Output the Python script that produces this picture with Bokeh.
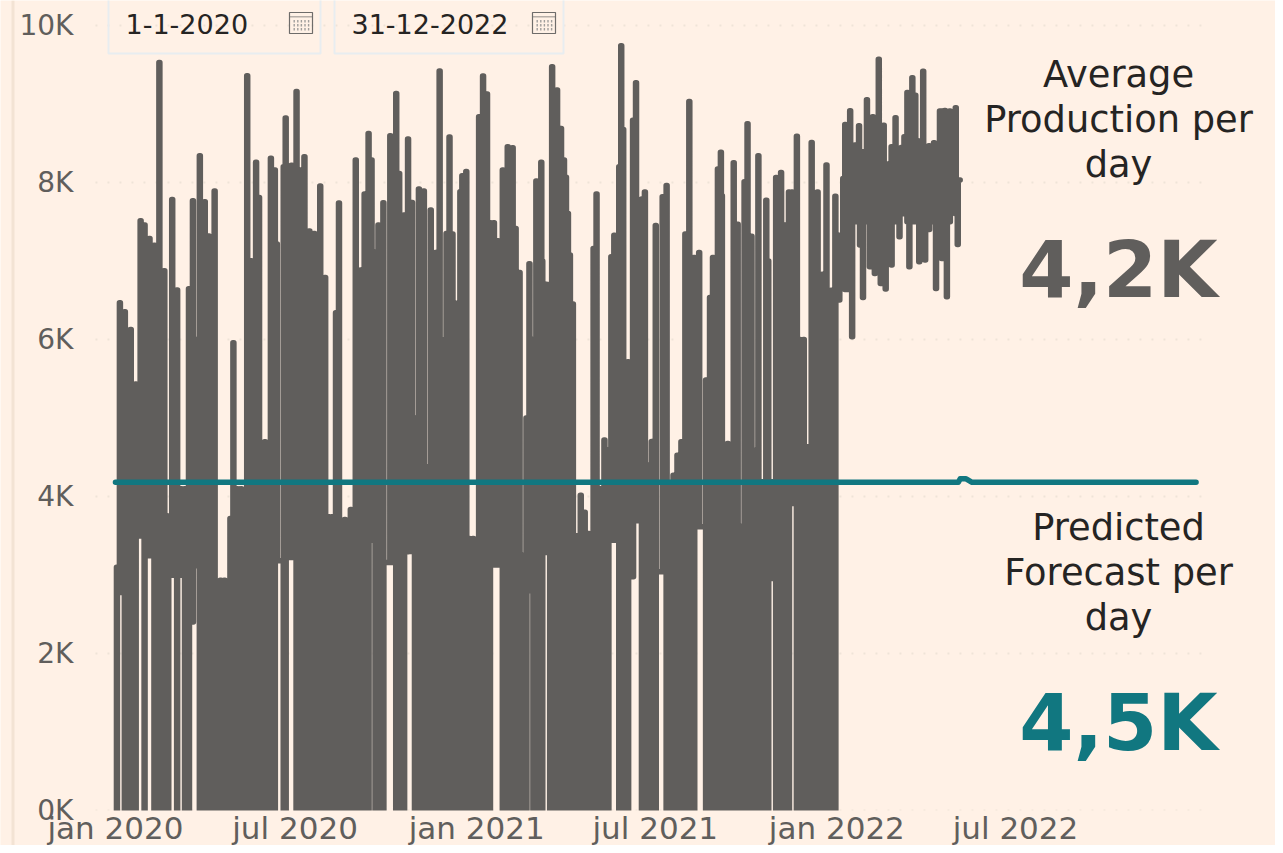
from datetime import date

from bokeh.embed import file_html
from bokeh.models import BoxAnnotation, FixedTicker, Label, Range1d
from bokeh.plotting import figure
from bokeh.resources import INLINE

# Production series: (days since start, stroke high, stroke low)
prod_start = date(2020, 1, 1)
prod_2020_h1 = [
    (1,3100,0),(4,6468,2777),(9,6353,0),(15,6128,0),(20,5432,0),(25,7512,3495),(29,7457,0),(34,7287,3244),
    (39,7200,0),(44,9529,0),(49,6876,0),(53,3750,0),(57,7784,2998),(62,6629,0),(66,4100,2998),(70,4100,0),
    (74,6646,0),(78,7767,2400),(82,6000,3117),(85,8340,0),(90,7754,0),(94,7317,0),(100,7890,0),(106,2934,0),
    (110,2934,0),(116,3720,0),(119,5958,0),(123,4100,0),(127,4100,0),(133,9360,0),(137,7003,0),(142,8256,0),(145,7810,0),
    (151,4697,0),(157,8307,0),(161,8158,0),(163,7215,3181),(170,8200,0),(172,8820,0),(178,8220,3223),(183,9160,0),
]
prod_2020_h2 = [
    (187,8158,0),(191,8328,0),(196,7381,0),(201,7351,0),(207,7954,0),(212,6791,0),(216,3741,0),(219,3741,0),(223,6340,0),
    (226,7737,0),(232,3707,0),(238,3834,0),(243,8285,0),(248,6884,0),(252,7852,0),(256,8625,0),(259,8285,3444),
    (263,7113,0),(266,7457,0),(271,7742,0),(278,8595,3160),(284,9134,0),(287,8115,0),(290,6608,0),(292,7585,0),
    (296,8553,3295),(300,7746,3300),(303,5000,0),(307,7916,0),(312,7890,0),(316,4378,0),(319,7648,0),(324,7109,0),(328,9419,0),
    (331,5992,0),(335,7351,0),(338,8578,0),(341,7343,0),(345,6460,0),(349,7882,0),(351,8086,0),(355,8141,0),(358,3465,0),(362,3465,0),
]
prod_2021_h1 = [
    (368,8837,0),(372,9355,0),(376,9126,0),(379,7487,0),(383,7487,3126),(387,7258,3126),(392,8158,0),(397,8455,0),
    (402,8442,0),(405,7415,0),(409,6854,0),(413,3252,0),(416,5000,0),(419,6965,2799),(423,6000,0),(426,8018,0),
    (431,8256,0),(432,7000,0),(436,6702,3287),(440,6702,0),(442,9474,0),(447,9177,0),(451,8689,0),(454,8285,0),
    (456,8065,0),(458,7606,0),(460,7075,0),(463,6451,0),(467,3500,0),(471,4017,0),(475,3800,0),(479,3529,0),(484,7160,0),
    (487,7852,0),(491,4100,0),(495,4718,0),(497,4600,0),(499,4400,0),(502,7053,3444),(505,7329,3444),(510,8200,0),(512,9741,0),
    (514,8675,0),(519,5716,0),(524,8794,2977),(527,9270,3690),(533,7788,0),(536,7877,0),(540,4400,0),(543,4700,0),(547,7452,0),
    (554,7817,3041),(558,7962,0),(561,4146,0),(565,4271,0),(569,4526,0),(573,4697,0),(577,7342,0),
]
prod_2021_h2 = [
    (581,9032,0),(586,7045,0),(591,7108,3614),(598,5483,0),(602,6535,0),(605,7045,0),(610,8170,0),(613,8386,0),
    (614,7830,0),(620,4676,0),(626,8250,0),(630,7469,0),(634,3622,0),(637,8009,0),(640,8747,0),(644,7316,0),(647,4590,0),(651,8340,0),
    (655,4187,0),(659,7775,0),(661,7000,0),(665,4187,2956),(669,8064,0),(674,8127,0),(678,7457,0),(682,7877,0),(685,7877,3911),(690,8590,0),
    (693,6000,0),(697,6000,0),(701,4633,0),(705,8510,0),(711,7877,0),(716,6832,0),(720,8221,0),(725,6628,0),(729,7826,0),
]
prod_2022 = [
    (733,7329,6502),(737,8051,7200),(739,8739,6637),(742,8476,6637),(744,8913,7500),(746,8476,6035),(749,8476,7500),
    (753,8722,7500),(754,8391,7202),(757,8391,6536),(761,9053,7500),(764,8600,6926),(767,8837,7000),(769,8600,6841),
    (773,9571,7400),(775,8730,6714),(778,8730,7400),(780,8200,6642),(784,8242,7400),(786,8454,6948),(790,8824,7500),
    (794,8400,7308),(796,8446,7600),(799,8582,7600),(802,9146,7500),(804,8100,6926),(807,9333,7500),(810,9112,7500),
    (814,8527,6990),(818,9418,7500),(820,8300,7011),(824,8467,7400),(829,8505,7500),(831,8100,6650),(835,8909,7400),
    (837,8909,7032),(840,8917,7500),(842,8200,6544),(845,8909,7500),(848,8500,7700),(851,8951,7600),(853,8030,7211),
    (855,8030,8030),
]
# Forecast series
forecast_dates = [date(2020,1,1), date(2022,5,4), date(2022,5,6), date(2022,5,12), date(2022,5,18), date(2022,12,31)]
forecast_values = [4180, 4180, 4225, 4225, 4180, 4180]

y_ticks = [0, 2000, 4000, 6000, 8000, 10000]
y_labels = ["0K", "2K", "4K", "6K", "8K", "10K"]
x_tick_dates = [date(2020,1,1), date(2020,7,1), date(2021,1,1), date(2021,7,1), date(2022,1,1), date(2022,7,1)]
x_labels = ["jan 2020", "jul 2020", "jan 2021", "jul 2021", "jan 2022", "jul 2022"]

BG, GRAY, TEAL, INK = "#FFF1E6", "#605E5C", "#117780", "#252423"
FONT = "DejaVu Sans"
DAY = 86400000.0

def ms(d):
    return (d - date(1970, 1, 1)).total_seconds() * 1000.0

t0 = ms(prod_start)
prod_x, prod_y = [], []
prev = None
for d, hi, lo in prod_2020_h1 + prod_2020_h2 + prod_2021_h1 + prod_2021_h2 + prod_2022:
    if prev is not None:
        level = max(prev[1], lo)
        prod_x += [t0 + prev[0] * DAY, t0 + d * DAY]
        prod_y += [level, level]
    prod_x += [t0 + d * DAY, t0 + d * DAY, t0 + (d + 1) * DAY, t0 + (d + 1) * DAY]
    prod_y += [lo, hi, hi, lo]
    prev = (d + 1, lo)

x_left, x_right = t0 - 116.5 * DAY, t0 + 1175.5 * DAY
grid_left, grid_right = t0 - 20.3 * DAY, t0 + 1109.7 * DAY
y_low, y_high = -446, 10318

p = figure(width=1275, height=845, x_axis_type="datetime", output_backend="svg", toolbar_location=None,
           x_range=Range1d(x_left, x_right), y_range=Range1d(y_low, y_high), min_border=0)
p.styles = {"margin-bottom": "-8px", "margin-right": "-8px"}
p.background_fill_color = BG
p.border_fill_color = BG
p.outline_line_color = None
p.grid.visible = False

for ax in (p.xaxis[0], p.yaxis[0]):
    ax.axis_line_color = None
    ax.major_tick_line_color = None
    ax.minor_tick_line_color = None
    ax.major_label_text_color = GRAY
    ax.major_label_text_font = FONT
p.yaxis[0].ticker = FixedTicker(ticks=y_ticks)
p.yaxis[0].major_label_overrides = dict(zip(y_ticks, y_labels))
p.yaxis[0].major_label_text_font_size = "28px"
p.yaxis[0].major_label_standoff = 16
p.yaxis[0].fixed_location = grid_left
x_ticks = [ms(d) for d in x_tick_dates]
p.xaxis[0].ticker = FixedTicker(ticks=x_ticks)
p.xaxis[0].major_label_overrides = dict(zip(x_ticks, x_labels))
p.xaxis[0].major_label_text_font_size = "31px"
p.xaxis[0].major_label_standoff = -6
p.xaxis[0].fixed_location = 0

# dotted horizontal rules between the plot's ends
p.segment(x0=[grid_left] * 6, x1=[grid_right] * 6, y0=y_ticks, y1=y_ticks, line_color="#EFE4D8", line_width=2,
          line_dash="2 10", level="underlay")

p.line(prod_x, prod_y, line_width=5.5, line_color=GRAY, line_join="round", line_cap="round")
# plot floor: keeps the rounded line ends from showing under zero
p.quad(left=[x_left], right=[x_right], bottom=[y_low], top=[0], fill_color=BG, line_color=None)
p.line([ms(d) for d in forecast_dates], forecast_values, line_width=5.5, line_color=TEAL,
       line_join="round", line_cap="round")

def box(l, t, r, b, fill=None, line=None, lw=1):
    p.add_layout(BoxAnnotation(left=l, right=r, top=t, bottom=b,
                               left_units="canvas", right_units="canvas", top_units="canvas", bottom_units="canvas",
                               fill_color=fill, fill_alpha=1 if fill else 0,
                               line_color=line, line_alpha=1 if line else 0, line_width=lw, level="overlay",
                               editable=False))

def text(s, x, y, size, color=INK, align="center", bold=False):
    p.add_layout(Label(x=x, y=y, x_units="canvas", y_units="canvas", text=s, text_font=FONT,
                       text_font_size=size, text_color=color, text_align=align, text_baseline="alphabetic",
                       text_font_style="bold" if bold else "normal"))

# page frame
box(11, 0, 14, 853, fill="#F3E3D4")

# date slicers
box(108, -10, 320, 53, line="#E8EDF0", lw=2)
box(334, -10, 563, 53, line="#E8EDF0", lw=2)
text("1-1-2020", 125, 23, "27px", align="left")
text("31-12-2022", 351, 23, "27px", align="left")
for ix in (289, 532):
    box(ix, 12, ix + 23, 33, line="#6E6C6A", lw=1.2)
    box(ix, 16, ix + 23, 16.8, fill="#6E6C6A")
    for col in range(5):
        for row in range(3):
            box(ix + 4 + col * 3.6, 19.5 + row * 4, ix + 5.4 + col * 3.6, 22 + row * 4, fill="#A09E9C")

# KPI texts
for s, yy in (("Average", 74), ("Production per", 119), ("day", 164),
              ("Predicted", 527), ("Forecast per", 572), ("day", 617)):
    text(s, 1118, yy, "36.8px")
text("4,2K", 1118, 269, "78px", color=GRAY, bold=True)
text("4,5K", 1118, 722, "78px", color=TEAL, bold=True)

open("out.html", "w").write(file_html(p, INLINE))
